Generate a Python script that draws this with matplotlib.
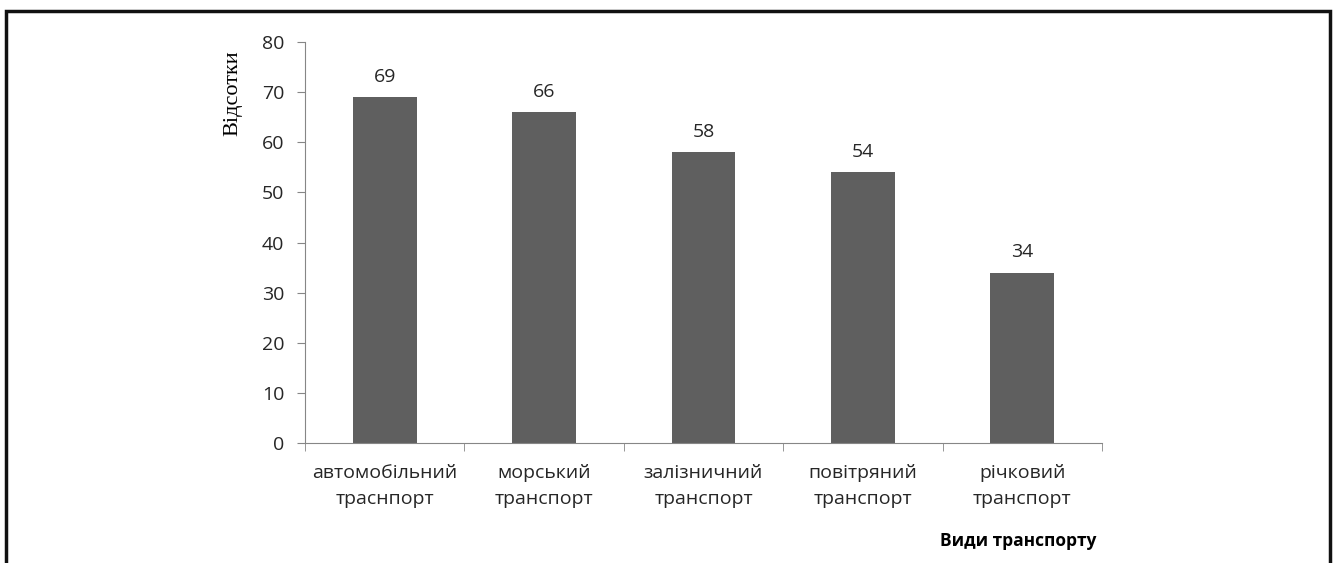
import matplotlib
matplotlib.use("Agg")
from matplotlib import pyplot as plt
from matplotlib.patches import Rectangle
import numpy as np

categories = ["автомобільний\nтраснпорт", "морський\nтранспорт", "залізничний\nтранспорт",
              "повітряний\nтранспорт", "річковий\nтранспорт"]
values = [69, 66, 58, 54, 34]
y_ticks = [0, 10, 20, 30, 40, 50, 60, 70, 80]

bar_color = "#5f5f5f"
axis_color = "#868686"
text_color = "#262626"

plt.rcParams['font.family'] = ['Open Sans', 'DejaVu Sans']

fig = plt.figure(figsize=(13.38, 5.63), dpi=100)
ax = fig.add_axes([0.228, 0.2131, 0.5956, 0.7123])

x = np.arange(len(categories))
bars = ax.bar(x, values, width=0.4, color=bar_color)

for xi, v in zip(x, values):
    ax.annotate(str(v), (xi, v), xytext=(0, 8), textcoords='offset points',
                ha='center', va='bottom', fontsize=14, color=text_color)

ax.set_xlim(-0.5, len(categories) - 0.5)
ax.set_ylim(0, 80)
ax.set_yticks(y_ticks)
ax.set_xticks(x)
ax.set_xticklabels(categories, fontsize=14, color=text_color, linespacing=1.6)
ax.set_xticks(np.arange(len(categories) + 1) - 0.5, minor=True)
ax.tick_params(axis='x', which='major', length=0, pad=15)
ax.tick_params(axis='x', which='minor', length=6, color=axis_color)
ax.tick_params(axis='y', length=6, color=axis_color, labelsize=14, labelcolor=text_color, pad=9)

for side in ['top', 'right']:
    ax.spines[side].set_visible(False)
for side in ['left', 'bottom']:
    ax.spines[side].set_color(axis_color)

ax.set_ylabel("Відсотки", family='Liberation Serif', fontsize=16, color='black')
ax.yaxis.set_label_coords(-0.079, 0.872)

fig.text(1018 / 1338, 1 - 541 / 563, "Види транспорту", fontsize=12.5, fontweight='bold',
         ha='center', va='center', color='black')

border = Rectangle((6 / 1338, -0.05), (1330 - 6) / 1338, 1.05 - 11 / 563,
                   transform=fig.transFigure, fill=False, edgecolor='#111111',
                   linewidth=2.5, clip_on=False)
fig.patches.append(border)

plt.savefig("out.png", dpi=100)
